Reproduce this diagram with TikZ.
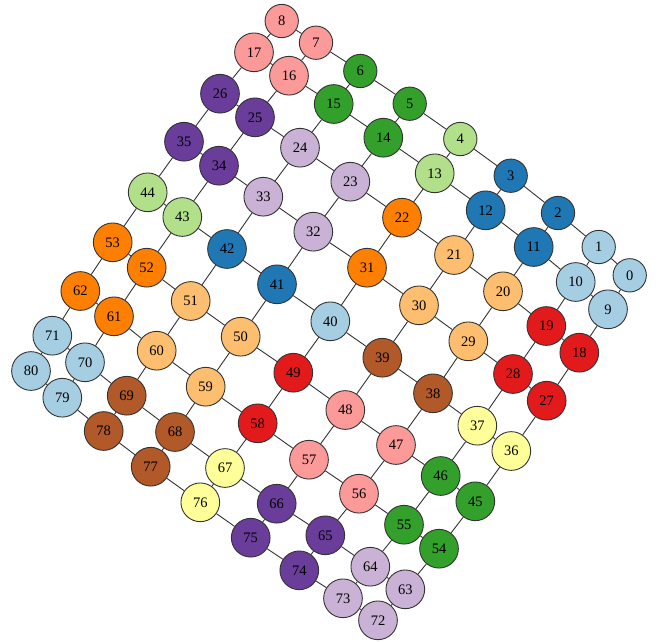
\documentclass[tikz,border=0pt]{standalone}
\usepackage{fontspec}
\setmainfont{Liberation Serif}
\pgfdeclarelayer{background}
\pgfsetlayers{background,main}
\definecolor{lb}{HTML}{A6CEE3}
\definecolor{db}{HTML}{1F78B4}
\definecolor{lg}{HTML}{B2DF8A}
\definecolor{dg}{HTML}{33A02C}
\definecolor{pk}{HTML}{FB9A99}
\definecolor{rd}{HTML}{E31A1C}
\definecolor{lo}{HTML}{FDBF6F}
\definecolor{or}{HTML}{FF7F00}
\definecolor{lp}{HTML}{CAB2D6}
\definecolor{pu}{HTML}{6A3D9A}
\definecolor{ye}{HTML}{FFFF99}
\definecolor{br}{HTML}{B15928}
\definecolor{edgegray}{HTML}{333333}
\tikzset{
  vtx/.style={circle, draw=edgegray, line width=0.9pt, inner sep=0pt, minimum size=38.7pt,
    font=\fontsize{14.5}{16}\selectfont, text=black},
  smallvtx/.style={minimum size=33.3pt},
  link/.style={draw=edgegray, line width=0.9pt}
}
\begin{document}
\begin{tikzpicture}[x=1pt,y=-1pt]
\useasboundingbox (0,0) rectangle (658,641);
\foreach \i/\x/\y/\c in {
0/629.7/275.3/lb, 1/598.7/247/lb, 2/558/213/db, 3/510.7/175.7/db, 4/460.3/139/lg,
5/409.7/103.7/dg, 6/360.3/71/dg, 7/316/42.7/pk, 8/281.7/21/pk}
  \node[vtx, smallvtx, fill=\c] (n\i) at (\x,\y) {\i};
\foreach \i/\x/\y/\c in {
9/608/309.3/lb,
10/575.7/282/lb, 11/533.7/247/db, 12/485.7/210.3/db, 13/434.7/173.3/lg, 14/383.3/137.7/dg,
15/333.7/104/dg, 16/289/75.7/pk, 17/254/52.3/pk,
18/579.3/352.7/rd, 19/546.3/326/rd, 20/503/291.3/lo, 21/454/255/lo, 22/402/217.7/or,
23/350.3/181.7/lp, 24/300/147.7/lp, 25/255/117.3/pu, 26/220/93.7/pu,
27/546.7/400.7/rd, 28/513/374/rd, 29/468.3/341.3/lo, 30/419/305.3/lo, 31/367/267.7/or,
32/313.3/231.7/lp, 33/263.3/196.7/lp, 34/219/165.7/pu, 35/184/141.7/pu,
36/511.3/451/ye, 37/477.3/425.7/ye, 38/433/393.3/br, 39/382.3/357.7/br, 40/330.3/321.3/lb,
41/277/284.3/db, 42/227/249/db, 43/182.3/217/lg, 44/147.7/192.3/lg,
45/475.3/501.3/dg, 46/440.7/476/dg, 47/396/445/pk, 48/345.3/410/pk, 49/293.3/372.7/rd,
50/240.7/336.7/lo, 51/190.7/301/lo, 52/146.7/267.7/or, 53/112.7/242.3/or,
54/439/548.7/dg, 55/404/524.7/dg, 56/359/493.7/pk, 57/309/459.7/pk, 58/257.7/423.3/rd,
59/205.7/386.7/lo, 60/156.7/350.7/lo, 61/114/316.3/or, 62/80.3/291/or,
63/405.3/589.3/lp, 64/370.3/566.7/lp, 65/325.3/535.3/pu, 66/276.7/503.7/pu, 67/225/468/ye,
68/175/432/br, 69/126.7/395.7/br, 70/85/362.3/lb, 71/52.3/335.7/lb,
72/378/620.3/lp, 73/343/598.3/lp, 74/299.3/570.3/pu, 75/250.7/537.7/pu, 76/200.3/502.3/ye,
77/150.7/466.7/br, 78/103.7/431/br, 79/62.3/397.7/lb, 80/31/371/lb}
  \node[vtx, fill=\c] (n\i) at (\x,\y) {\i};
\begin{pgfonlayer}{background}
\foreach \r in {0,...,8}{
  \foreach \c in {0,...,7}{
    \pgfmathtruncatemacro{\a}{9*\r+\c}
    \pgfmathtruncatemacro{\b}{9*\r+\c+1}
    \draw[link] (n\a) -- (n\b);
  }
}
\foreach \r in {0,...,7}{
  \foreach \c in {0,...,8}{
    \pgfmathtruncatemacro{\a}{9*\r+\c}
    \pgfmathtruncatemacro{\b}{9*\r+\c+9}
    \draw[link] (n\a) -- (n\b);
  }
}
\end{pgfonlayer}
\end{tikzpicture}
\end{document}
